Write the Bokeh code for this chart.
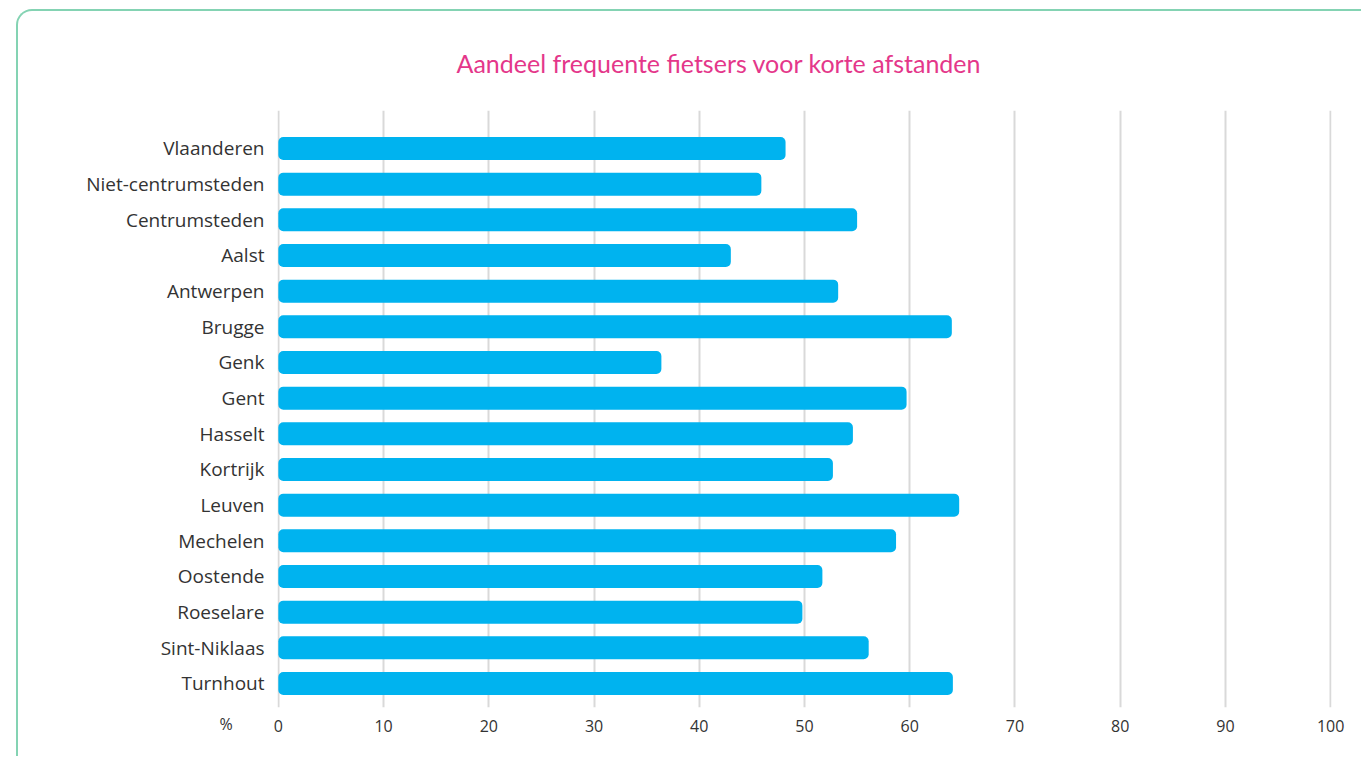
from bokeh.plotting import figure
from bokeh.models import Range1d, FixedTicker, Title
from bokeh.embed import file_html
from bokeh.resources import INLINE

categories = ["Vlaanderen", "Niet-centrumsteden", "Centrumsteden", "Aalst", "Antwerpen",
              "Brugge", "Genk", "Gent", "Hasselt", "Kortrijk", "Leuven", "Mechelen",
              "Oostende", "Roeselare", "Sint-Niklaas", "Turnhout"]
values = [48.2, 45.9, 55.0, 43.0, 53.2, 64.0, 36.4, 59.7, 54.6, 52.7, 64.7, 58.7,
          51.7, 49.8, 56.1, 64.1]
x_ticks = [0, 10, 20, 30, 40, 50, 60, 70, 80, 90, 100]
title_text = "Aandeel frequente fietsers voor korte afstanden"
unit_label = "%"

positions = list(range(len(categories)))

p = figure(width=1345, height=747, output_backend="svg", toolbar_location=None,
           x_range=Range1d(-0.08, 100.08), y_range=Range1d(15.673, -1.065),
           min_border_left=259, min_border_right=32, min_border_top=99, min_border_bottom=51)
p.styles = {"margin-left": "16px", "margin-top": "9px",
            "border-top": "2px solid #84d3b3", "border-left": "2px solid #84d3b3",
            "border-top-left-radius": "16px"}
p.border_fill_color = None
p.background_fill_color = None

p.title = Title(text=title_text, align="left", offset=179, standoff=66,
                text_font="Lato", text_font_size="25px", text_font_style="normal",
                text_color="#e4378a")

p.hbar(y=positions, right=values, left=0, height=0.645, color="#00b3ef",
       line_color=None, border_radius=5)

p.outline_line_color = None
p.ygrid.grid_line_color = None
p.xgrid.grid_line_color = "#d9d9d9"
p.xgrid.grid_line_width = 2
p.xgrid.ticker = FixedTicker(ticks=x_ticks)

p.xaxis.ticker = FixedTicker(ticks=x_ticks)
p.xaxis.axis_line_color = None
p.xaxis.major_tick_line_color = None
p.xaxis.minor_tick_line_color = None
p.xaxis.major_label_text_font = "Open Sans"
p.xaxis.major_label_text_font_size = "16px"
p.xaxis.major_label_text_color = "#333333"
p.xaxis.major_label_standoff = 6

p.yaxis.ticker = FixedTicker(ticks=positions)
p.yaxis.major_label_overrides = {i: c for i, c in zip(positions, categories)}
p.yaxis.axis_line_color = None
p.yaxis.major_tick_line_color = None
p.yaxis.minor_tick_line_color = None
p.yaxis.major_label_text_font = "Open Sans"
p.yaxis.major_label_text_font_size = "19px"
p.yaxis.major_label_text_color = "#333333"
p.yaxis.major_label_standoff = 7

p.add_layout(Title(text=unit_label, align="left", offset=-58, standoff=-44,
                   vertical_align="top", text_font="Open Sans", text_font_size="16px",
                   text_font_style="normal", text_color="#333333"), "below")

open("out.html", "w").write(file_html(p, INLINE))
